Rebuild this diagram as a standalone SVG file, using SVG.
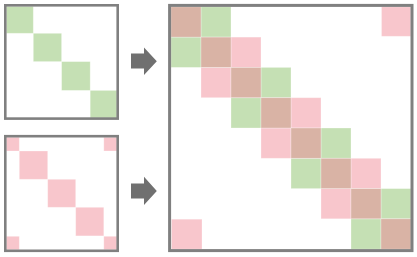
<svg xmlns="http://www.w3.org/2000/svg" width="417" height="257" viewBox="0 0 417 257">
<style>
.frame{fill:none;stroke:#808080;stroke-width:2.6}
.g{fill:#c5e0b4;stroke:#fff;stroke-opacity:0.35;stroke-width:0.8}
.p{fill:#f8c6cc;stroke:#fff;stroke-opacity:0.35;stroke-width:0.8}
.b{fill:#d9b3a5;stroke:#fff;stroke-opacity:0.35;stroke-width:0.8}
.arrow{fill:#707070}
</style>
<rect width="417" height="257" fill="#fff"/>
<g id="matrix-green">
  <rect class="g" x="6.3" y="6.3" width="27" height="27"/>
  <rect class="g" x="33.3" y="33.3" width="28.3" height="28.3"/>
  <rect class="g" x="61.6" y="61.6" width="28.6" height="28.8"/>
  <rect class="g" x="90.2" y="90.4" width="26.7" height="27.6"/>
  <rect class="frame" x="5.3" y="5.3" width="112.4" height="113.3"/>
</g>
<g id="matrix-pink">
  <rect class="p" x="6.3" y="137.2" width="13" height="13.8"/>
  <rect class="p" x="103.8" y="137.2" width="13.1" height="13.8"/>
  <rect class="p" x="19.3" y="151" width="28.4" height="28.3"/>
  <rect class="p" x="47.7" y="179.3" width="28" height="28"/>
  <rect class="p" x="75.7" y="207.3" width="28.1" height="28.6"/>
  <rect class="p" x="6.3" y="236.3" width="13" height="13.4"/>
  <rect class="p" x="103.8" y="236.3" width="13.1" height="13.4"/>
  <rect class="frame" x="5.3" y="136.2" width="112.4" height="114.6"/>
</g>
<g id="matrix-sum">
  <!-- green blocks -->
  <rect class="g" x="201" y="6.8" width="30" height="30.3"/>
  <rect class="g" x="171" y="37.1" width="30" height="30.3"/>
  <rect class="g" x="261" y="67.4" width="30" height="30.3"/>
  <rect class="g" x="231" y="97.7" width="30" height="30.3"/>
  <rect class="g" x="321" y="128" width="30" height="30.3"/>
  <rect class="g" x="291" y="158.3" width="30" height="30.3"/>
  <rect class="g" x="381" y="188.6" width="30" height="30.2"/>
  <rect class="g" x="351" y="218.8" width="30" height="30.4"/>
  <!-- pink blocks -->
  <rect class="p" x="231" y="37.1" width="30" height="30.3"/>
  <rect class="p" x="201" y="67.4" width="30" height="30.3"/>
  <rect class="p" x="291" y="97.7" width="30" height="30.3"/>
  <rect class="p" x="261" y="128" width="30" height="30.3"/>
  <rect class="p" x="351" y="158.3" width="30" height="30.3"/>
  <rect class="p" x="321" y="188.6" width="30" height="30.2"/>
  <rect class="p" x="381.5" y="6.8" width="29.3" height="29.5"/>
  <rect class="p" x="171.5" y="219.2" width="30.5" height="30"/>
  <!-- overlap diagonal -->
  <rect class="b" x="171" y="6.8" width="30" height="30.3"/>
  <rect class="b" x="201" y="37.1" width="30" height="30.3"/>
  <rect class="b" x="231" y="67.4" width="30" height="30.3"/>
  <rect class="b" x="261" y="97.7" width="30" height="30.3"/>
  <rect class="b" x="291" y="128" width="30" height="30.3"/>
  <rect class="b" x="321" y="158.3" width="30" height="30.3"/>
  <rect class="b" x="351" y="188.6" width="30" height="30.2"/>
  <rect class="b" x="381" y="218.8" width="30" height="30.4"/>
  <rect class="frame" x="169.6" y="5.4" width="242.4" height="245.2" style="stroke-width:3"/>
</g>
<g id="connectors">
  <path class="arrow" d="M131,53.6 H144 V47.4 L156.8,61.2 L144,75 V68.6 H131 Z"/>
  <path class="arrow" d="M131,183.4 H144 V176.8 L156.8,190.9 L144,205 V198.4 H131 Z"/>
</g>
</svg>
